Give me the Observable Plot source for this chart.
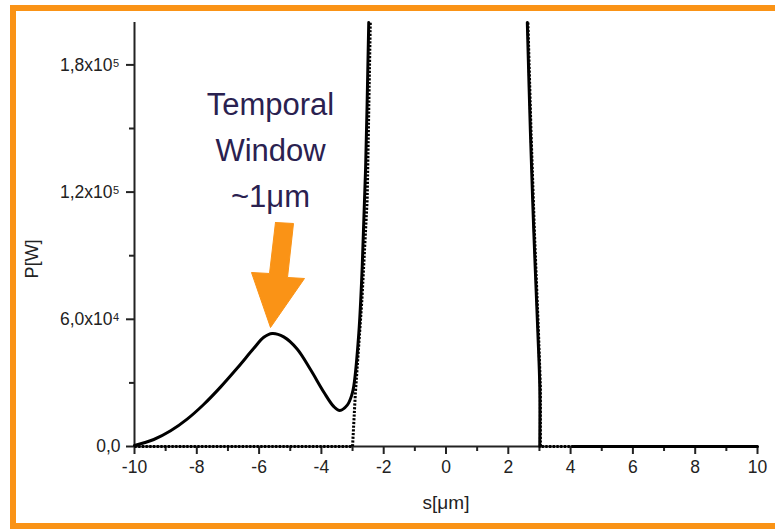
<!DOCTYPE html>
<html><head><meta charset="utf-8">
<script src="https://cdn.jsdelivr.net/npm/d3@7"></script>
<script src="https://cdn.jsdelivr.net/npm/@observablehq/plot@0.6"></script>
<style>
html,body{margin:0;padding:0;background:#fff;overflow:hidden}
#wrap{position:relative;width:775px;height:529px;overflow:hidden;background:#fff}
#chart{position:absolute;left:0;top:0}
#frame{position:absolute;left:10px;top:5px;width:770.5px;height:524px;border:6px solid #FA9316;box-sizing:border-box;pointer-events:none}
</style></head><body>
<div id="wrap"><div id="chart"></div><div id="frame"></div></div>
<script>
// Solid curve: s [µm], P [W]  (null = gap / off-scale)
const solidS = [-10, -9.38, -8.84, -8.31, -7.78, -7.24, -6.70, -6.17, -5.85, -5.58, -5.21, -4.78, -4.35, -3.92, -3.60, -3.41, -3.17, -3.02, -2.96, -2.80, -2.69, -2.58, -2.48, 0, 2.61, 2.71, 2.82, 2.95, 3.01, 3.01, 3.5, 4.1, 10];
const solidP = [500, 3300, 7400, 12900, 19800, 28000, 37000, 46300, 51500, 53300, 51700, 46000, 36300, 25600, 18800, 17000, 19500, 24500, 28500, 53200, 84600, 131800, 200000, null, 200000, 148100, 100700, 53400, 28100, 0, null, 0, 0];

// Dotted curve
const dotS = [-10, -3.0, -2.91, -2.70, -2.53, -2.43, 0, 2.63, 2.73, 2.84, 2.97, 3.03, 3.03, 10];
const dotP = [0, 0, 25000, 69000, 116500, 200000, null, 200000, 148100, 100700, 53400, 28100, 0, 0];

// Axes
const xMajorTicks = [-10, -8, -6, -4, -2, 0, 2, 4, 6, 8, 10];
const xMinorTicks = [-9, -7, -5, -3, -1, 1, 3, 5, 7, 9];
const yMajorTicks = [0, 60000, 120000, 180000];
const yMinorTicks = [30000, 90000, 150000];
const yTickMantissas = ["0,0", "6,0", "1,2", "1,8"];
const yTickExponents = ["", "4", "5", "5"];
const xLabel = "s[\u03bcm]";
const yLabel = "P[W]";

// Annotation
const noteLines = ["Temporal", "Window", "~1\u03bcm"];
const noteS = [-5.634, -5.634, -5.634];
const noteP = [156600, 134670, 112740];
const arrowS = [-5.474, -4.896, -5.088, -4.543, -5.634, -6.244, -5.666, -5.474];
const arrowP = [105660, 105190, 79720, 79250, 56130, 82080, 81600, 105660];

const orange = "#FA9316";
const ink = "#222";

const solid = solidS.map((s, i) => ({s, p: solidP[i]}));
const dotted = dotS.map((s, i) => ({s, p: dotP[i]}));
const yRows = yMajorTicks.map((v, i) => ({v, mant: yTickMantissas[i], exp: yTickExponents[i]}));
const notes = noteLines.map((t, i) => ({t, s: noteS[i], p: noteP[i]}));
const arrow = arrowS.map((s, i) => ({s, p: arrowP[i]}));

const font = "'Liberation Sans', Arial, Helvetica, sans-serif";

const chart = Plot.plot({
  width: 775,
  height: 529,
  marginLeft: 134,
  marginRight: 18,
  marginTop: 22,
  marginBottom: 83,
  style: {fontFamily: font, fontSize: "17px", color: ink, background: "transparent"},
  x: {domain: [-10, 10]},
  y: {domain: [0, 200000]},
  marks: [
    Plot.axisX({ticks: xMinorTicks, tickSize: 5, fill: "none", label: null, strokeWidth: 2, stroke: ink}),
    Plot.axisX({ticks: xMajorTicks, tickSize: 8, tickPadding: 6, tickFormat: d => String(d), label: null, strokeWidth: 2, stroke: ink, fill: ink, fontSize: 17.5}),
    Plot.axisY({ticks: yMinorTicks, tickSize: 5, fill: "none", label: null, strokeWidth: 2, stroke: ink}),
    Plot.axisY({ticks: yMajorTicks, tickSize: 8, fill: "none", label: null, strokeWidth: 2, stroke: ink}),
    Plot.ruleX([-10], {stroke: ink, strokeWidth: 2}),
    Plot.ruleY([0], {stroke: ink, strokeWidth: 2}),
    // y tick labels with superscript exponents
    Plot.text(yRows.filter(d => d.exp), {y: "v", text: d => d.mant + "x10", frameAnchor: "left", textAnchor: "end", lineAnchor: "middle", dx: -22, fontSize: 17.5, fill: ink}),
    Plot.text(yRows.filter(d => d.exp), {y: "v", text: "exp", frameAnchor: "left", textAnchor: "start", lineAnchor: "bottom", dx: -21.5, dy: 2, fontSize: 11, fill: ink}),
    Plot.text(yRows.filter(d => !d.exp), {y: "v", text: "mant", frameAnchor: "left", textAnchor: "end", lineAnchor: "middle", dx: -14, fontSize: 17.5, fill: ink}),
    // axis titles
    Plot.text([xLabel], {frameAnchor: "bottom", text: d => d, lineAnchor: "bottom", dy: 62, fontSize: 19, fill: ink}),
    Plot.text([yLabel], {x: () => -10, y: () => 88500, text: d => d, rotate: -90, lineAnchor: "bottom", textAnchor: "middle", dx: -97, fontSize: 18, fill: ink}),
    // data
    Plot.line(solid, {x: "s", y: "p", stroke: "#000", strokeWidth: 3, curve: "catmull-rom"}),
    Plot.line(dotted, {x: "s", y: "p", stroke: "#000", strokeWidth: 3, strokeDasharray: "2.2,1.5", strokeLinecap: "butt", curve: "linear"}),
    // annotation
    Plot.line(arrow, {x: "s", y: "p", fill: orange, stroke: orange, strokeWidth: 1, curve: "linear"}),
    Plot.text(notes, {x: "s", y: "p", text: "t", lineAnchor: "bottom", textAnchor: "middle", fontSize: 31, fill: "#2A2150"})
  ]
});
document.getElementById("chart").appendChild(chart);
</script>
</body></html>
